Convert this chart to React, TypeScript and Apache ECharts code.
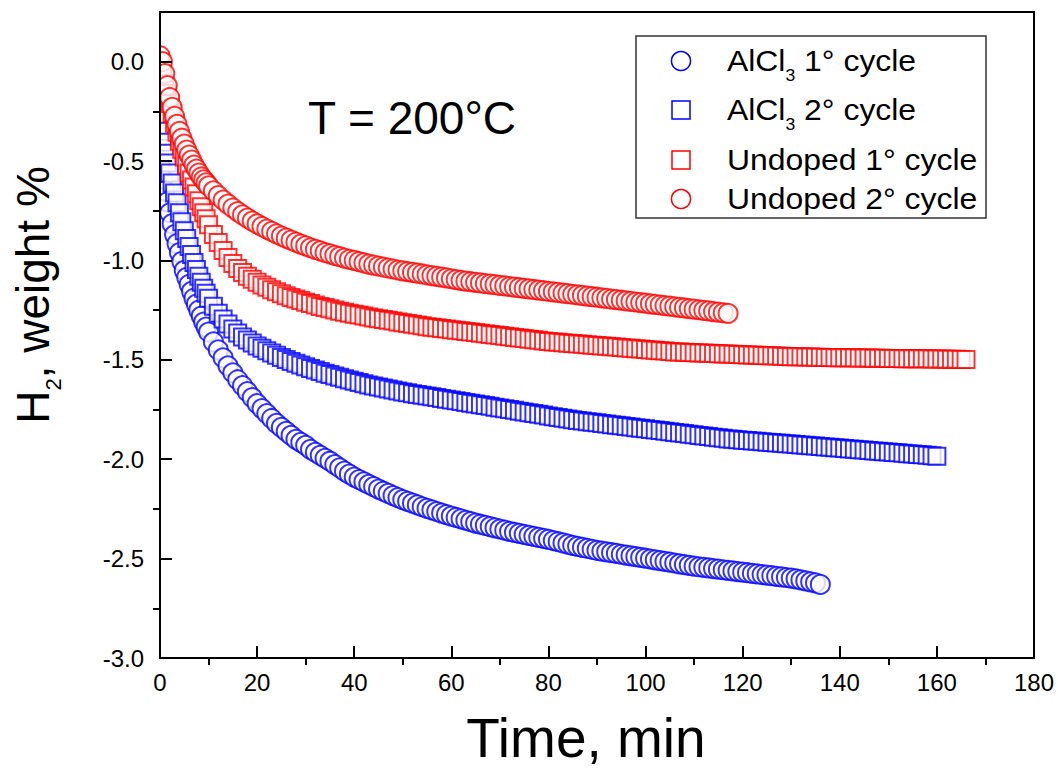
import React, { useEffect, useRef } from 'react';
import * as echarts from 'echarts';

// Sampling: half-minute readings for the first 10 min, then one per minute
const EARLY_STEP_MIN = 0.5;
const LATE_START_MIN = 10;
const LATE_STEP_MIN = 1;

// Series names (legend order)
const seriesNames = ['AlCl3 1° cycle', 'AlCl3 2° cycle', 'Undoped 1° cycle', 'Undoped 2° cycle'];

// ---- AlCl3 1° cycle (H2 weight %) ----
const alcl3Cycle1Early = [
  -0.52, -0.59, -0.65, -0.705, -0.76, -0.815, -0.87, -0.915, -0.96, -1.005,
  -1.05, -1.085, -1.12, -1.155, -1.19, -1.22, -1.25, -1.28, -1.31, -1.335,
];
const alcl3Cycle1Late = [
  -1.36, -1.41, -1.45, -1.49, -1.53, -1.565, -1.6, -1.63, -1.66, -1.69,
  -1.72, -1.745, -1.77, -1.795, -1.82, -1.84, -1.86, -1.88, -1.9, -1.915,
  -1.93, -1.95, -1.965, -1.98, -1.995, -2.01, -2.027, -2.043, -2.06, -2.075,
  -2.09, -2.102, -2.114, -2.126, -2.138, -2.15, -2.161, -2.172, -2.183, -2.193,
  -2.203, -2.212, -2.221, -2.23, -2.239, -2.247, -2.255, -2.263, -2.271, -2.279,
  -2.286, -2.293, -2.3, -2.307, -2.314, -2.321, -2.327, -2.333, -2.339, -2.345,
  -2.351, -2.357, -2.363, -2.368, -2.373, -2.378, -2.383, -2.388, -2.393, -2.398,
  -2.403, -2.409, -2.415, -2.421, -2.427, -2.433, -2.438, -2.443, -2.448, -2.453,
  -2.458, -2.462, -2.466, -2.47, -2.474, -2.478, -2.482, -2.486, -2.49, -2.494,
  -2.498, -2.502, -2.506, -2.51, -2.514, -2.518, -2.522, -2.526, -2.53, -2.534,
  -2.538, -2.541, -2.544, -2.547, -2.55, -2.553, -2.556, -2.559, -2.562, -2.565,
  -2.568, -2.571, -2.574, -2.577, -2.58, -2.583, -2.586, -2.589, -2.592, -2.595,
  -2.598, -2.602, -2.607, -2.612, -2.617, -2.622, -2.63,
];

// ---- AlCl3 2° cycle ----
const alcl3Cycle2Early = [
  -0.35, -0.405, -0.46, -0.51, -0.56, -0.61, -0.66, -0.71, -0.76, -0.805,
  -0.85, -0.89, -0.93, -0.97, -1.01, -1.045, -1.08, -1.11, -1.14, -1.165,
];
const alcl3Cycle2Late = [
  -1.19, -1.23, -1.265, -1.295, -1.32, -1.345, -1.365, -1.385, -1.4, -1.415,
  -1.43, -1.442, -1.454, -1.466, -1.477, -1.488, -1.498, -1.508, -1.517, -1.526,
  -1.535, -1.543, -1.551, -1.559, -1.567, -1.574, -1.581, -1.588, -1.595, -1.602,
  -1.608, -1.614, -1.62, -1.626, -1.632, -1.637, -1.642, -1.647, -1.652, -1.657,
  -1.662, -1.666, -1.67, -1.674, -1.678, -1.682, -1.686, -1.69, -1.694, -1.698,
  -1.702, -1.706, -1.71, -1.714, -1.718, -1.722, -1.726, -1.73, -1.734, -1.738,
  -1.742, -1.746, -1.75, -1.754, -1.758, -1.762, -1.766, -1.77, -1.774, -1.778,
  -1.782, -1.786, -1.79, -1.794, -1.798, -1.802, -1.805, -1.808, -1.811, -1.814,
  -1.817, -1.82, -1.823, -1.826, -1.829, -1.832, -1.835, -1.838, -1.841, -1.844,
  -1.847, -1.85, -1.853, -1.856, -1.859, -1.862, -1.865, -1.868, -1.871, -1.874,
  -1.877, -1.88, -1.883, -1.886, -1.889, -1.892, -1.895, -1.898, -1.9, -1.902,
  -1.904, -1.906, -1.908, -1.91, -1.912, -1.914, -1.916, -1.918, -1.92, -1.922,
  -1.924, -1.926, -1.928, -1.93, -1.932, -1.934, -1.936, -1.938, -1.94, -1.942,
  -1.944, -1.946, -1.948, -1.95, -1.952, -1.954, -1.956, -1.958, -1.96, -1.962,
  -1.964, -1.966, -1.968, -1.97, -1.972, -1.974, -1.976, -1.978, -1.98, -1.982,
  -1.985,
];

// ---- Undoped 1° cycle ----
const undopedCycle1Early = [
  0, -0.055, -0.11, -0.16, -0.21, -0.26, -0.31, -0.355, -0.4, -0.44,
  -0.48, -0.52, -0.56, -0.595, -0.63, -0.665, -0.7, -0.73, -0.76, -0.79,
];
const undopedCycle1Late = [
  -0.82, -0.87, -0.91, -0.95, -0.985, -1.015, -1.04, -1.06, -1.08, -1.095,
  -1.11, -1.123, -1.135, -1.147, -1.158, -1.168, -1.177, -1.186, -1.194, -1.202,
  -1.21, -1.217, -1.224, -1.231, -1.237, -1.243, -1.249, -1.255, -1.26, -1.265,
  -1.27, -1.275, -1.28, -1.285, -1.289, -1.293, -1.297, -1.301, -1.305, -1.309,
  -1.313, -1.317, -1.321, -1.325, -1.329, -1.333, -1.336, -1.339, -1.342, -1.345,
  -1.348, -1.351, -1.354, -1.357, -1.36, -1.363, -1.366, -1.369, -1.372, -1.375,
  -1.378, -1.381, -1.384, -1.387, -1.39, -1.393, -1.396, -1.399, -1.402, -1.405,
  -1.408, -1.41, -1.412, -1.414, -1.416, -1.418, -1.42, -1.422, -1.424, -1.426,
  -1.428, -1.43, -1.432, -1.434, -1.436, -1.438, -1.44, -1.442, -1.444, -1.446,
  -1.448, -1.45, -1.452, -1.454, -1.456, -1.458, -1.46, -1.461, -1.462, -1.463,
  -1.464, -1.465, -1.466, -1.467, -1.468, -1.469, -1.47, -1.471, -1.472, -1.473,
  -1.474, -1.475, -1.476, -1.477, -1.478, -1.479, -1.48, -1.481, -1.482, -1.483,
  -1.484, -1.485, -1.485, -1.486, -1.486, -1.487, -1.487, -1.488, -1.488, -1.489,
  -1.489, -1.49, -1.49, -1.49, -1.491, -1.491, -1.491, -1.492, -1.492, -1.492,
  -1.493, -1.493, -1.493, -1.494, -1.494, -1.494, -1.495, -1.495, -1.495, -1.496,
  -1.496, -1.496, -1.497, -1.497, -1.497, -1.498, -1.498,
];

// ---- Undoped 2° cycle ----
const undopedCycle2Early = [
  0.03, 0.0, -0.06, -0.12, -0.18, -0.23, -0.275, -0.315, -0.35, -0.385,
  -0.415, -0.445, -0.47, -0.495, -0.52, -0.54, -0.56, -0.58, -0.595, -0.61,
];
const undopedCycle2Late = [
  -0.625, -0.65, -0.674, -0.696, -0.717, -0.736, -0.754, -0.771, -0.787, -0.802,
  -0.816, -0.829, -0.842, -0.854, -0.866, -0.877, -0.888, -0.898, -0.908, -0.918,
  -0.927, -0.936, -0.944, -0.952, -0.96, -0.967, -0.974, -0.981, -0.988, -0.994,
  -1.0, -1.006, -1.012, -1.018, -1.023, -1.028, -1.033, -1.038, -1.043, -1.048,
  -1.052, -1.056, -1.06, -1.064, -1.068, -1.072, -1.076, -1.08, -1.084, -1.088,
  -1.092, -1.096, -1.1, -1.104, -1.107, -1.11, -1.113, -1.116, -1.119, -1.122,
  -1.125, -1.128, -1.131, -1.134, -1.137, -1.14, -1.143, -1.146, -1.149, -1.152,
  -1.155, -1.158, -1.161, -1.164, -1.167, -1.17, -1.173, -1.176, -1.179, -1.182,
  -1.185, -1.188, -1.191, -1.194, -1.197, -1.2, -1.203, -1.206, -1.209, -1.212,
  -1.215, -1.218, -1.221, -1.224, -1.227, -1.23, -1.233, -1.236, -1.239, -1.242,
  -1.245, -1.248, -1.251, -1.254, -1.257, -1.26, -1.263, -1.266,
];

const FONT = 'Arial, "Liberation Sans", Helvetica, sans-serif';
const BLUE = '#0000ff';
const RED = '#ff0000';

const toPoints = (early: number[], late: number[]) => [
  ...early.map((v, i) => [i * EARLY_STEP_MIN, v]),
  ...late.map((v, i) => [LATE_START_MIN + i * LATE_STEP_MIN, v]),
];

export default function App() {
  const ref = useRef<HTMLDivElement>(null);

  useEffect(() => {
    if (!ref.current) return;
    const chart = echarts.init(ref.current, null, { renderer: 'svg' });

    const tickStyle = { color: '#000', width: 2 };

    const legendRows = [
      { y: 61, shape: 'circle', color: BLUE, text: '{a|AlCl}{s|3}{a| 1° cycle}' },
      { y: 110, shape: 'rect', color: BLUE, text: '{a|AlCl}{s|3}{a| 2° cycle}' },
      { y: 160, shape: 'rect', color: RED, text: '{a|Undoped 1° cycle}' },
      { y: 199, shape: 'circle', color: RED, text: '{a|Undoped 2° cycle}' },
    ];

    const legendChildren: any[] = [
      {
        type: 'rect',
        shape: { x: 636, y: 36, width: 350, height: 182 },
        style: { fill: 'none', stroke: '#333', lineWidth: 1.5 },
      },
    ];
    legendRows.forEach((r) => {
      if (r.shape === 'circle') {
        legendChildren.push({
          type: 'circle',
          shape: { cx: 681, cy: r.y, r: 9.5 },
          style: { fill: '#fff', stroke: r.color, lineWidth: 1.5 },
        });
      } else {
        legendChildren.push({
          type: 'rect',
          shape: { x: 672, y: r.y - 9, width: 18, height: 18 },
          style: { fill: '#fff', stroke: r.color, lineWidth: 1.5 },
        });
      }
      legendChildren.push({
        type: 'text',
        x: 727,
        y: r.y,
        scaleX: 1.1,
        style: {
          text: r.text,
          align: 'left',
          verticalAlign: 'middle',
          rich: {
            a: { fontSize: 29, fontFamily: FONT, fill: '#000' },
            s: { fontSize: 16, fontFamily: FONT, fill: '#000', padding: [30, 0, 0, 0] },
          },
        },
      });
    });

    const option: any = {
      animation: false,
      backgroundColor: '#fff',
      grid: {
        left: 160,
        right: 24,
        top: 12,
        bottom: 113,
        show: true,
        borderColor: '#000',
        borderWidth: 2,
        backgroundColor: 'transparent',
        z: 10,
      },
      xAxis: {
        type: 'value',
        min: 0,
        max: 180,
        interval: 20,
        z: 10,
        axisLine: { show: true, onZero: false, lineStyle: tickStyle },
        axisTick: { show: true, inside: true, length: 12, lineStyle: tickStyle },
        minorTick: { show: true, splitNumber: 2, length: -7, lineStyle: tickStyle },
        splitLine: { show: false },
        minorSplitLine: { show: false },
        axisLabel: { color: '#000', fontSize: 24, fontFamily: FONT, margin: 12 },
      },
      yAxis: {
        type: 'value',
        min: -3,
        max: 0.25,
        interval: 0.5,
        z: 10,
        axisLine: { show: true, onZero: false, lineStyle: tickStyle },
        axisTick: { show: true, inside: true, length: 12, lineStyle: tickStyle },
        minorTick: { show: true, splitNumber: 2, length: -7, lineStyle: tickStyle },
        splitLine: { show: false },
        minorSplitLine: { show: false },
        axisLabel: {
          color: '#000',
          fontSize: 24,
          fontFamily: FONT,
          margin: 16,
          showMaxLabel: false,
          formatter: (v: number) =>
            Math.abs(v * 2 - Math.round(v * 2)) < 1e-6 ? v.toFixed(1) : '',
        },
      },
      graphic: [
        // mask marker overflow left of the y axis
        {
          type: 'rect',
          z: 5,
          silent: true,
          shape: { x: 130, y: 12, width: 29, height: 646 },
          style: { fill: '#fff' },
        },
        {
          type: 'rect',
          z: 11,
          silent: true,
          shape: { x: 146, y: 28, width: 13, height: 16 },
          style: { fill: '#fff' },
        },
        {
          type: 'text',
          z: 20,
          x: 308,
          y: 118,
          style: {
            text: 'T = 200°C',
            fontSize: 46,
            fontFamily: FONT,
            fill: '#000',
            align: 'left',
            verticalAlign: 'middle',
          },
        },
        {
          type: 'text',
          z: 20,
          x: 586,
          y: 738,
          style: {
            text: 'Time, min',
            fontSize: 55,
            fontFamily: FONT,
            fill: '#000',
            align: 'center',
            verticalAlign: 'middle',
          },
        },
        {
          type: 'text',
          z: 20,
          x: 33,
          y: 295,
          rotation: Math.PI / 2,
          style: {
            text: '{a|H}{s|2}{a|, weight %}',
            align: 'center',
            verticalAlign: 'middle',
            rich: {
              a: { fontSize: 46, fontFamily: FONT, fill: '#000' },
              s: { fontSize: 22, fontFamily: FONT, fill: '#000', padding: [40, 0, 0, 0] },
            },
          },
        },
        {
          type: 'group',
          z: 20,
          children: legendChildren,
        },
      ],
      series: [
        {
          name: seriesNames[0],
          type: 'scatter',
          symbol: 'emptyCircle',
          symbolSize: 19,
          itemStyle: { color: BLUE, borderWidth: 1.3 },
          data: toPoints(alcl3Cycle1Early, alcl3Cycle1Late),
          z: 2,
        },
        {
          name: seriesNames[1],
          type: 'scatter',
          symbol: 'emptyRect',
          symbolSize: 17,
          itemStyle: { color: BLUE, borderWidth: 1.3 },
          data: toPoints(alcl3Cycle2Early, alcl3Cycle2Late),
          z: 2,
        },
        {
          name: seriesNames[2],
          type: 'scatter',
          symbol: 'emptyRect',
          symbolSize: 17,
          itemStyle: { color: RED, borderWidth: 1.3 },
          data: toPoints(undopedCycle1Early, undopedCycle1Late),
          z: 2,
        },
        {
          name: seriesNames[3],
          type: 'scatter',
          symbol: 'emptyCircle',
          symbolSize: 19,
          itemStyle: { color: RED, borderWidth: 1.3 },
          data: toPoints(undopedCycle2Early, undopedCycle2Late),
          z: 2,
        },
      ],
    };

    chart.setOption(option);
    return () => chart.dispose();
  }, []);

  return (
    <div
      ref={ref}
      style={{ position: 'absolute', left: 0, top: 0, width: 1058, height: 771 }}
    />
  );
}
